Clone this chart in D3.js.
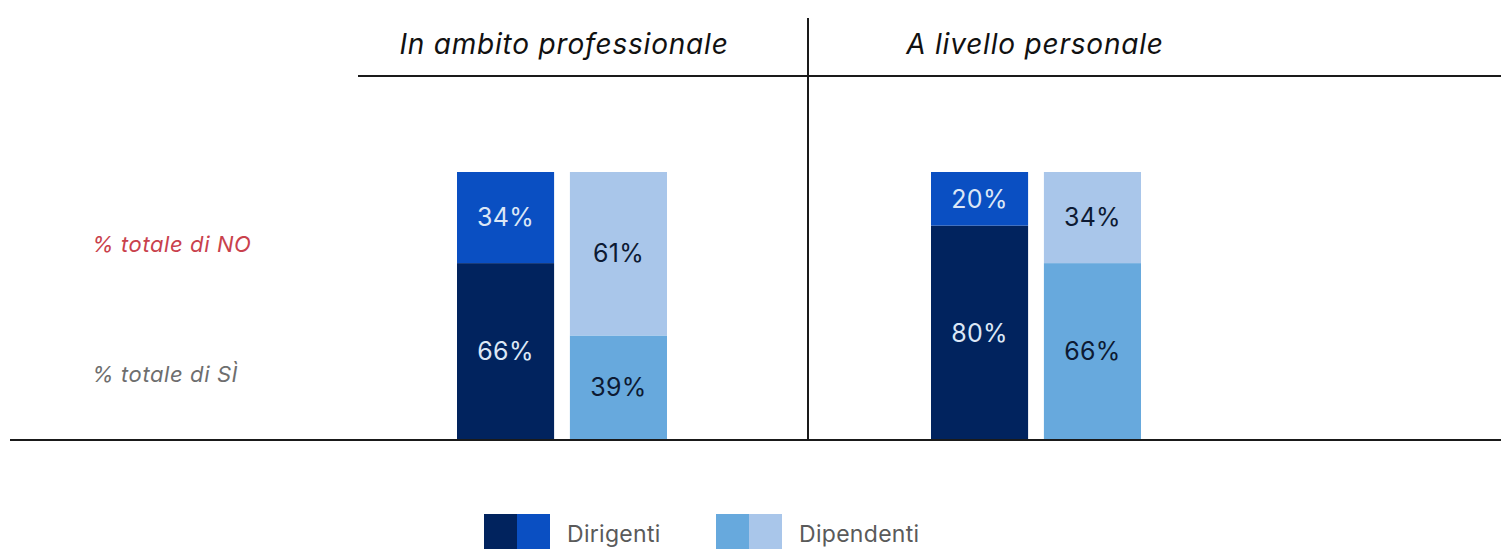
<!DOCTYPE html>
<html>
<head>
<meta charset="utf-8">
<script src="https://cdn.jsdelivr.net/npm/d3@7"></script>
<style>
  html, body { margin: 0; padding: 0; background: #ffffff; }
  svg { display: block; font-family: Inter, "Noto Sans", sans-serif; }
</style>
</head>
<body>
<svg id="chart" width="1501" height="549"></svg>
<script>
// Panels (question context) and groups within each panel
const panels = ["In ambito professionale", "A livello personale"];
const groups = ["Dirigenti", "Dipendenti"];

// Share answering "Sì" per panel, per group (Dirigenti, Dipendenti)
const yesValues = [[66, 39], [80, 66]];
// Share answering "No" per panel, per group
const noValues = [[34, 61], [20, 34]];

const rowLabels = ["% totale di NO", "% totale di SÌ"];

// Colours: [Sì, No] per group
const groupColors = {
  "Dirigenti": ["#01235e", "#0a4fc2"],
  "Dipendenti": ["#67a9dd", "#a9c6ea"]
};
const labelColors = {
  "Dirigenti": "#dce7f6",
  "Dipendenti": "#0d1a33"
};

const svg = d3.select("#chart");

const baseY = 440, topY = 172;
const y = d3.scaleLinear().domain([0, 100]).range([baseY, topY]);

// Panel x-extent and bar positions inside each panel
const panelX = d3.scaleBand().domain(panels).range([336, 1280]);
const barX = d3.scaleBand().domain(groups).range([0, 210]).paddingInner(0.14);
const panelOffset = { "In ambito professionale": 457 - 336, "A livello personale": 931 - 808 };

// Frame lines
svg.append("line").attr("x1", 358).attr("x2", 1501).attr("y1", 76).attr("y2", 76)
  .attr("stroke", "#1a1a1a").attr("stroke-width", 2);
svg.append("line").attr("x1", 808).attr("x2", 808).attr("y1", 18).attr("y2", 440)
  .attr("stroke", "#1a1a1a").attr("stroke-width", 2);

// Panel titles
const titleX = { "In ambito professionale": 564, "A livello personale": 1035 };
svg.selectAll("text.title").data(panels).join("text")
  .attr("class", "title")
  .attr("x", d => titleX[d]).attr("y", 54)
  .attr("text-anchor", "middle")
  .attr("font-size", 28).attr("font-style", "italic")
  .attr("letter-spacing", 0.8)
  .attr("fill", "#111111")
  .text(d => d);

// Row labels
svg.append("text").attr("x", 92).attr("y", 252)
  .attr("font-size", 22).attr("font-style", "italic").attr("fill", "#c9414c")
  .attr("letter-spacing", 0.6)
  .text(rowLabels[0]);
svg.append("text").attr("x", 92).attr("y", 382)
  .attr("font-size", 22).attr("font-style", "italic").attr("fill", "#6e6e6e")
  .attr("letter-spacing", 0.6)
  .text(rowLabels[1]);

// Stacked bars
panels.forEach((p, pi) => {
  const x0 = panelX(p) + panelOffset[p];
  groups.forEach((g, gi) => {
    const yes = yesValues[pi][gi], no = noValues[pi][gi];
    const bx = x0 + barX(g), bw = barX.bandwidth();
    const segs = [
      { v: yes, y0: 0, y1: yes, color: groupColors[g][0] },
      { v: no, y0: yes, y1: yes + no, color: groupColors[g][1] }
    ];
    const gSel = svg.append("g");
    gSel.selectAll("rect").data(segs).join("rect")
      .attr("x", bx).attr("width", bw)
      .attr("y", d => y(d.y1)).attr("height", d => y(d.y0) - y(d.y1))
      .attr("fill", d => d.color);
    gSel.selectAll("text").data(segs).join("text")
      .attr("x", bx + bw / 2)
      .attr("y", d => (y(d.y0) + y(d.y1)) / 2)
      .attr("dy", "0.35em")
      .attr("text-anchor", "middle")
      .attr("font-size", 25)
      .attr("letter-spacing", 0.3)
      .attr("fill", labelColors[g])
      .text(d => d.v + "%");
  });
});

// Baseline
svg.append("line").attr("x1", 10).attr("x2", 1501).attr("y1", baseY).attr("y2", baseY)
  .attr("stroke", "#1a1a1a").attr("stroke-width", 2);

// Legend
const legendX = { "Dirigenti": 484, "Dipendenti": 716 };
groups.forEach(g => {
  const lx = legendX[g];
  groupColors[g].forEach((c, i) => {
    svg.append("rect").attr("x", lx + i * 33).attr("y", 514)
      .attr("width", 33).attr("height", 35).attr("fill", c);
  });
  svg.append("text").attr("x", lx + 83).attr("y", 542)
    .attr("font-size", 23).attr("letter-spacing", 0.3)
    .attr("fill", "#5a5a5a").text(g);
});
</script>
</body>
</html>
